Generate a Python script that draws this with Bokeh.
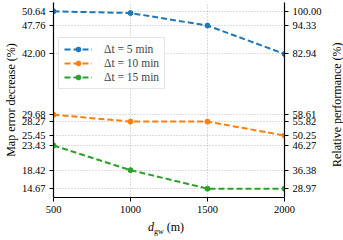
from bokeh.plotting import figure
from bokeh.layouts import column, row
from bokeh.models import (Range1d, LinearAxis, FixedTicker, PrintfTickFormatter,
                          Legend, LegendItem, Div)
from bokeh.embed import file_html
from bokeh.resources import INLINE

d_gw = [500, 1000, 1500, 2000]
err_5 = [50.64, 50.30, 47.76, 42.00]
err_10 = [29.68, 28.27, 28.27, 25.45]
err_15 = [23.43, 18.42, 14.67, 14.67]
left_ticks = [14.67, 18.42, 23.43, 25.45, 28.27, 29.68, 42.00, 47.76, 50.64]
right_ticks = [28.97, 36.38, 46.27, 50.25, 55.82, 58.61, 82.94, 94.33, 100.00]
x_ticks = [500, 1000, 1500, 2000]
series_labels = ["Δt = 5 min", "Δt = 10 min", "Δt = 15 min"]
colors = ["#1f77b4", "#ff7f0e", "#2ca02c"]
ref_value = 50.64

FONT = "Liberation Serif"
ymin, ymax = 12.87, 52.44

p = figure(frame_width=231, frame_height=195,
           x_range=Range1d(500, 2000), y_range=Range1d(ymin, ymax),
           output_backend="svg", toolbar_location=None,
           min_border_left=45, min_border_right=36, min_border_top=2,
           min_border_bottom=19)
p.outline_line_color = None
p.background_fill_color = "white"

p.extra_y_ranges = {"rel": Range1d(ymin / ref_value * 100, ymax / ref_value * 100)}
rax = LinearAxis(y_range_name="rel", ticker=FixedTicker(ticks=right_ticks),
                 formatter=PrintfTickFormatter(format="%.2f"))
p.add_layout(rax, "right")

p.yaxis[0].ticker = FixedTicker(ticks=left_ticks)
p.yaxis[0].formatter = PrintfTickFormatter(format="%.2f")
p.yaxis[0].axis_label = "Map error decrease (%)"
p.xaxis.ticker = FixedTicker(ticks=x_ticks)

for ax in p.xaxis + p.yaxis:
    ax.major_tick_out = 4
    ax.major_tick_in = 0
    ax.minor_tick_line_color = None
    ax.axis_line_color = "black"
    ax.axis_line_width = 1.2
    ax.major_tick_line_color = "black"
    ax.major_label_text_font = FONT
    ax.major_label_text_font_size = "10.5px"
    ax.major_label_text_color = "black"
    ax.axis_label_text_font = FONT
    ax.axis_label_text_font_size = "12px"
    ax.axis_label_text_font_style = "normal"
    ax.axis_label_text_color = "black"
    ax.major_label_standoff = 4
    ax.axis_label_standoff = 1

p.xgrid.ticker = FixedTicker(ticks=x_ticks)
p.ygrid.ticker = FixedTicker(ticks=left_ticks)
for g in (p.xgrid, p.ygrid):
    g.grid_line_color = "#b8b8b8"
    g.grid_line_dash = "1 2"
    g.grid_line_width = 1

items = []
for ys, c, lab in zip([err_5, err_10, err_15], colors, series_labels):
    r1 = p.line(d_gw, ys, line_color=c, line_width=2, line_dash="6 3")
    r2 = p.scatter(d_gw, ys, size=5, fill_color=c, line_color=c)
    items.append(LegendItem(label=lab, renderers=[r1, r2]))

legend = Legend(items=items, location=(5, 108), label_text_font=FONT,
                label_text_font_size="11.5px", glyph_width=28, glyph_height=12,
                spacing=2, padding=5, margin=0, label_standoff=12,
                border_line_color="#cccccc", background_fill_alpha=0.9)
p.add_layout(legend, "center")

xlabel = Div(text='<span style="font-family:\'Liberation Serif\';font-size:12px;">'
                  '<i>d</i><sub style="font-size:8px;">gw</sub>&nbsp;(m)</span>',
             width=300, height=16,
             styles={"text-align": "left", "padding-left": "143px", "line-height": "12px"})

ylabel_right = Div(text="Relative performance (%)", width=14, height=199,
                   styles={"writing-mode": "vertical-rl", "transform": "rotate(180deg)",
                           "text-align": "center", "white-space": "nowrap",
                           "font-family": "'Liberation Serif'", "font-size": "12px",
                           "color": "black"})

layout = row(column(p, xlabel, spacing=0), ylabel_right, spacing=0)
open("out.html", "w").write(file_html(layout, INLINE))
